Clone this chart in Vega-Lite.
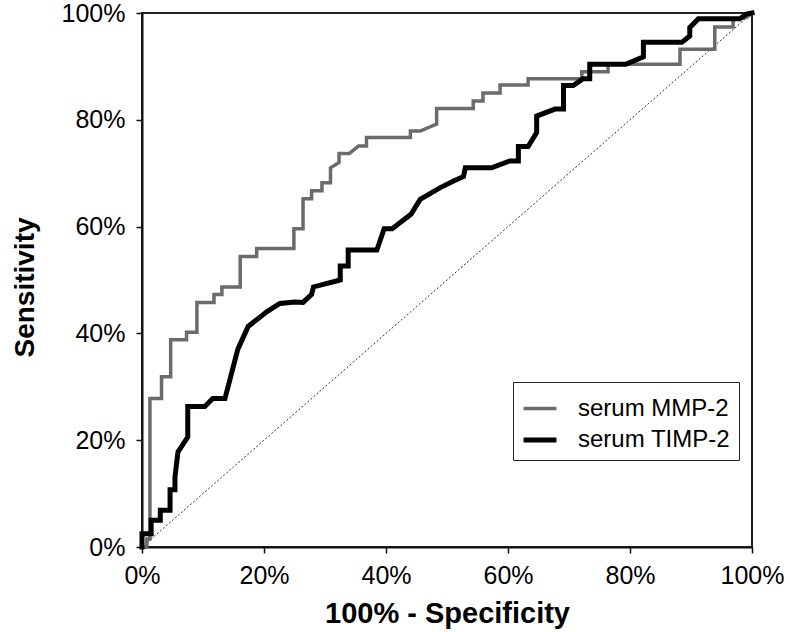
{
  "$schema": "https://vega.github.io/schema/vega-lite/v6.json",
  "width": 610,
  "height": 534,
  "autosize": "none",
  "padding": {"left": 142, "top": 13, "right": 38, "bottom": 85},
  "background": "white",
  "config": {
    "font": "Liberation Sans",
    "view": {"stroke": "#222", "strokeWidth": 2},
    "axis": {
      "grid": false,
      "domainColor": "#111",
      "domainWidth": 2,
      "tickColor": "#111",
      "tickWidth": 1.5,
      "tickSize": 6,
      "labelFont": "Liberation Sans",
      "labelFontSize": 25,
      "labelColor": "#000",
      "titleFont": "Liberation Sans",
      "titleFontWeight": "bold",
      "titleColor": "#000"
    }
  },
  "datasets": {
    "roc": [
      {"s": "serum MMP-2", "i": 0, "x": 0, "y": 0},
      {"s": "serum MMP-2", "i": 1, "x": 0.008, "y": 0},
      {"s": "serum MMP-2", "i": 2, "x": 0.008, "y": 0.015},
      {"s": "serum MMP-2", "i": 3, "x": 0.013, "y": 0.015},
      {"s": "serum MMP-2", "i": 4, "x": 0.013, "y": 0.278},
      {"s": "serum MMP-2", "i": 5, "x": 0.032, "y": 0.278},
      {"s": "serum MMP-2", "i": 6, "x": 0.032, "y": 0.319},
      {"s": "serum MMP-2", "i": 7, "x": 0.047, "y": 0.319},
      {"s": "serum MMP-2", "i": 8, "x": 0.047, "y": 0.388},
      {"s": "serum MMP-2", "i": 9, "x": 0.073, "y": 0.388},
      {"s": "serum MMP-2", "i": 10, "x": 0.073, "y": 0.402},
      {"s": "serum MMP-2", "i": 11, "x": 0.09, "y": 0.402},
      {"s": "serum MMP-2", "i": 12, "x": 0.09, "y": 0.458},
      {"s": "serum MMP-2", "i": 13, "x": 0.118, "y": 0.458},
      {"s": "serum MMP-2", "i": 14, "x": 0.118, "y": 0.473},
      {"s": "serum MMP-2", "i": 15, "x": 0.131, "y": 0.473},
      {"s": "serum MMP-2", "i": 16, "x": 0.131, "y": 0.487},
      {"s": "serum MMP-2", "i": 17, "x": 0.161, "y": 0.487},
      {"s": "serum MMP-2", "i": 18, "x": 0.161, "y": 0.544},
      {"s": "serum MMP-2", "i": 19, "x": 0.188, "y": 0.544},
      {"s": "serum MMP-2", "i": 20, "x": 0.188, "y": 0.559},
      {"s": "serum MMP-2", "i": 21, "x": 0.249, "y": 0.559},
      {"s": "serum MMP-2", "i": 22, "x": 0.249, "y": 0.596},
      {"s": "serum MMP-2", "i": 23, "x": 0.264, "y": 0.596},
      {"s": "serum MMP-2", "i": 24, "x": 0.264, "y": 0.652},
      {"s": "serum MMP-2", "i": 25, "x": 0.278, "y": 0.652},
      {"s": "serum MMP-2", "i": 26, "x": 0.278, "y": 0.667},
      {"s": "serum MMP-2", "i": 27, "x": 0.295, "y": 0.667},
      {"s": "serum MMP-2", "i": 28, "x": 0.295, "y": 0.682},
      {"s": "serum MMP-2", "i": 29, "x": 0.309, "y": 0.682},
      {"s": "serum MMP-2", "i": 30, "x": 0.309, "y": 0.71},
      {"s": "serum MMP-2", "i": 31, "x": 0.323, "y": 0.72},
      {"s": "serum MMP-2", "i": 32, "x": 0.323, "y": 0.737},
      {"s": "serum MMP-2", "i": 33, "x": 0.34, "y": 0.737},
      {"s": "serum MMP-2", "i": 34, "x": 0.355, "y": 0.751},
      {"s": "serum MMP-2", "i": 35, "x": 0.368, "y": 0.751},
      {"s": "serum MMP-2", "i": 36, "x": 0.368, "y": 0.767},
      {"s": "serum MMP-2", "i": 37, "x": 0.44, "y": 0.767},
      {"s": "serum MMP-2", "i": 38, "x": 0.44, "y": 0.779},
      {"s": "serum MMP-2", "i": 39, "x": 0.456, "y": 0.779},
      {"s": "serum MMP-2", "i": 40, "x": 0.483, "y": 0.792},
      {"s": "serum MMP-2", "i": 41, "x": 0.483, "y": 0.821},
      {"s": "serum MMP-2", "i": 42, "x": 0.543, "y": 0.821},
      {"s": "serum MMP-2", "i": 43, "x": 0.543, "y": 0.835},
      {"s": "serum MMP-2", "i": 44, "x": 0.559, "y": 0.835},
      {"s": "serum MMP-2", "i": 45, "x": 0.559, "y": 0.85},
      {"s": "serum MMP-2", "i": 46, "x": 0.587, "y": 0.85},
      {"s": "serum MMP-2", "i": 47, "x": 0.587, "y": 0.865},
      {"s": "serum MMP-2", "i": 48, "x": 0.633, "y": 0.865},
      {"s": "serum MMP-2", "i": 49, "x": 0.633, "y": 0.877},
      {"s": "serum MMP-2", "i": 50, "x": 0.721, "y": 0.877},
      {"s": "serum MMP-2", "i": 51, "x": 0.721, "y": 0.89},
      {"s": "serum MMP-2", "i": 52, "x": 0.764, "y": 0.89},
      {"s": "serum MMP-2", "i": 53, "x": 0.764, "y": 0.904},
      {"s": "serum MMP-2", "i": 54, "x": 0.882, "y": 0.904},
      {"s": "serum MMP-2", "i": 55, "x": 0.882, "y": 0.932},
      {"s": "serum MMP-2", "i": 56, "x": 0.939, "y": 0.932},
      {"s": "serum MMP-2", "i": 57, "x": 0.939, "y": 0.974},
      {"s": "serum MMP-2", "i": 58, "x": 0.969, "y": 0.974},
      {"s": "serum MMP-2", "i": 59, "x": 0.969, "y": 0.987},
      {"s": "serum MMP-2", "i": 60, "x": 0.991, "y": 0.992},
      {"s": "serum MMP-2", "i": 61, "x": 1, "y": 1},
      {"s": "serum TIMP-2", "i": 0, "x": 0, "y": 0},
      {"s": "serum TIMP-2", "i": 1, "x": 0, "y": 0.025},
      {"s": "serum TIMP-2", "i": 2, "x": 0.015, "y": 0.025},
      {"s": "serum TIMP-2", "i": 3, "x": 0.015, "y": 0.05},
      {"s": "serum TIMP-2", "i": 4, "x": 0.03, "y": 0.05},
      {"s": "serum TIMP-2", "i": 5, "x": 0.03, "y": 0.069},
      {"s": "serum TIMP-2", "i": 6, "x": 0.046, "y": 0.069},
      {"s": "serum TIMP-2", "i": 7, "x": 0.046, "y": 0.107},
      {"s": "serum TIMP-2", "i": 8, "x": 0.054, "y": 0.107},
      {"s": "serum TIMP-2", "i": 9, "x": 0.054, "y": 0.131},
      {"s": "serum TIMP-2", "i": 10, "x": 0.059, "y": 0.178},
      {"s": "serum TIMP-2", "i": 11, "x": 0.075, "y": 0.206},
      {"s": "serum TIMP-2", "i": 12, "x": 0.075, "y": 0.263},
      {"s": "serum TIMP-2", "i": 13, "x": 0.103, "y": 0.263},
      {"s": "serum TIMP-2", "i": 14, "x": 0.116, "y": 0.278},
      {"s": "serum TIMP-2", "i": 15, "x": 0.136, "y": 0.278},
      {"s": "serum TIMP-2", "i": 16, "x": 0.144, "y": 0.313},
      {"s": "serum TIMP-2", "i": 17, "x": 0.157, "y": 0.37},
      {"s": "serum TIMP-2", "i": 18, "x": 0.174, "y": 0.413},
      {"s": "serum TIMP-2", "i": 19, "x": 0.205, "y": 0.441},
      {"s": "serum TIMP-2", "i": 20, "x": 0.226, "y": 0.456},
      {"s": "serum TIMP-2", "i": 21, "x": 0.251, "y": 0.459},
      {"s": "serum TIMP-2", "i": 22, "x": 0.264, "y": 0.458},
      {"s": "serum TIMP-2", "i": 23, "x": 0.278, "y": 0.473},
      {"s": "serum TIMP-2", "i": 24, "x": 0.281, "y": 0.487},
      {"s": "serum TIMP-2", "i": 25, "x": 0.325, "y": 0.5},
      {"s": "serum TIMP-2", "i": 26, "x": 0.325, "y": 0.526},
      {"s": "serum TIMP-2", "i": 27, "x": 0.338, "y": 0.526},
      {"s": "serum TIMP-2", "i": 28, "x": 0.338, "y": 0.556},
      {"s": "serum TIMP-2", "i": 29, "x": 0.385, "y": 0.556},
      {"s": "serum TIMP-2", "i": 30, "x": 0.397, "y": 0.596},
      {"s": "serum TIMP-2", "i": 31, "x": 0.41, "y": 0.596},
      {"s": "serum TIMP-2", "i": 32, "x": 0.441, "y": 0.623},
      {"s": "serum TIMP-2", "i": 33, "x": 0.456, "y": 0.651},
      {"s": "serum TIMP-2", "i": 34, "x": 0.489, "y": 0.673},
      {"s": "serum TIMP-2", "i": 35, "x": 0.51, "y": 0.685},
      {"s": "serum TIMP-2", "i": 36, "x": 0.527, "y": 0.694},
      {"s": "serum TIMP-2", "i": 37, "x": 0.53, "y": 0.71},
      {"s": "serum TIMP-2", "i": 38, "x": 0.573, "y": 0.71},
      {"s": "serum TIMP-2", "i": 39, "x": 0.603, "y": 0.723},
      {"s": "serum TIMP-2", "i": 40, "x": 0.617, "y": 0.723},
      {"s": "serum TIMP-2", "i": 41, "x": 0.617, "y": 0.75},
      {"s": "serum TIMP-2", "i": 42, "x": 0.633, "y": 0.75},
      {"s": "serum TIMP-2", "i": 43, "x": 0.647, "y": 0.776},
      {"s": "serum TIMP-2", "i": 44, "x": 0.647, "y": 0.807},
      {"s": "serum TIMP-2", "i": 45, "x": 0.677, "y": 0.82},
      {"s": "serum TIMP-2", "i": 46, "x": 0.691, "y": 0.82},
      {"s": "serum TIMP-2", "i": 47, "x": 0.691, "y": 0.864},
      {"s": "serum TIMP-2", "i": 48, "x": 0.707, "y": 0.864},
      {"s": "serum TIMP-2", "i": 49, "x": 0.723, "y": 0.877},
      {"s": "serum TIMP-2", "i": 50, "x": 0.734, "y": 0.877},
      {"s": "serum TIMP-2", "i": 51, "x": 0.734, "y": 0.904},
      {"s": "serum TIMP-2", "i": 52, "x": 0.793, "y": 0.904},
      {"s": "serum TIMP-2", "i": 53, "x": 0.822, "y": 0.918},
      {"s": "serum TIMP-2", "i": 54, "x": 0.822, "y": 0.945},
      {"s": "serum TIMP-2", "i": 55, "x": 0.885, "y": 0.945},
      {"s": "serum TIMP-2", "i": 56, "x": 0.898, "y": 0.957},
      {"s": "serum TIMP-2", "i": 57, "x": 0.898, "y": 0.973},
      {"s": "serum TIMP-2", "i": 58, "x": 0.912, "y": 0.989},
      {"s": "serum TIMP-2", "i": 59, "x": 0.98, "y": 0.989},
      {"s": "serum TIMP-2", "i": 60, "x": 0.991, "y": 0.998},
      {"s": "serum TIMP-2", "i": 61, "x": 1, "y": 1}
    ],
    "diag": [
      {"x": 0, "y": 0},
      {"x": 1, "y": 1}
    ]
  },
  "layer": [
    {
      "data": {"name": "diag"},
      "mark": {"type": "line", "stroke": "#333", "strokeWidth": 1, "strokeDash": [2, 2]},
      "encoding": {
        "x": {"field": "x", "type": "quantitative", "scale": {"domain": [0, 1], "nice": false, "zero": false}},
        "y": {"field": "y", "type": "quantitative", "scale": {"domain": [0, 1], "nice": false, "zero": false}}
      }
    },
    {
      "data": {"name": "roc"},
      "mark": {"type": "line", "strokeJoin": "miter", "strokeCap": "square"},
      "encoding": {
        "x": {
          "field": "x", "type": "quantitative",
          "scale": {"domain": [0, 1], "nice": false, "zero": false},
          "axis": {
            "format": ".0%", "values": [0, 0.2, 0.4, 0.6, 0.8, 1],
            "title": "100% - Specificity",
            "titleFontSize": 29,
            "titleY": 75.5,
            "titleBaseline": "alphabetic",
            "labelPadding": 10,
            "labelOverlap": false,
            "labelBound": false,
            "labelFlush": false
          }
        },
        "y": {
          "field": "y", "type": "quantitative",
          "scale": {"domain": [0, 1], "nice": false, "zero": false},
          "axis": {
            "format": ".0%", "values": [0, 0.2, 0.4, 0.6, 0.8, 1],
            "title": "Sensitivity",
            "titleFontSize": 28,
            "titleAngle": -90,
            "titleX": -109,
            "titleY": 274,
            "titleAlign": "center",
            "titleBaseline": "alphabetic",
            "labelPadding": 11,
            "labelOverlap": false,
            "labelBound": false,
            "labelFlush": false
          }
        },
        "order": {"field": "i", "type": "quantitative"},
        "color": {
          "field": "s", "type": "nominal",
          "scale": {"domain": ["serum MMP-2", "serum TIMP-2"], "range": ["#6b6b6b", "#000000"]},
          "legend": {
            "title": null,
            "orient": "none",
            "legendX": 371,
            "legendY": 369,
            "fillColor": "white",
            "strokeColor": "#222",
            "padding": 8,
            "symbolType": "stroke",
            "symbolSize": 1089,
            "symbolStrokeWidth": 4,
            "labelFontSize": 24,
            "labelFont": "Liberation Sans",
            "labelColor": "#000",
            "labelOffset": 19,
            "rowPadding": 0,
            "labelLimit": 300
          }
        },
        "strokeWidth": {
          "field": "s", "type": "nominal",
          "scale": {"domain": ["serum MMP-2", "serum TIMP-2"], "range": [3.5, 5]},
          "legend": null
        }
      }
    }
  ]
}
